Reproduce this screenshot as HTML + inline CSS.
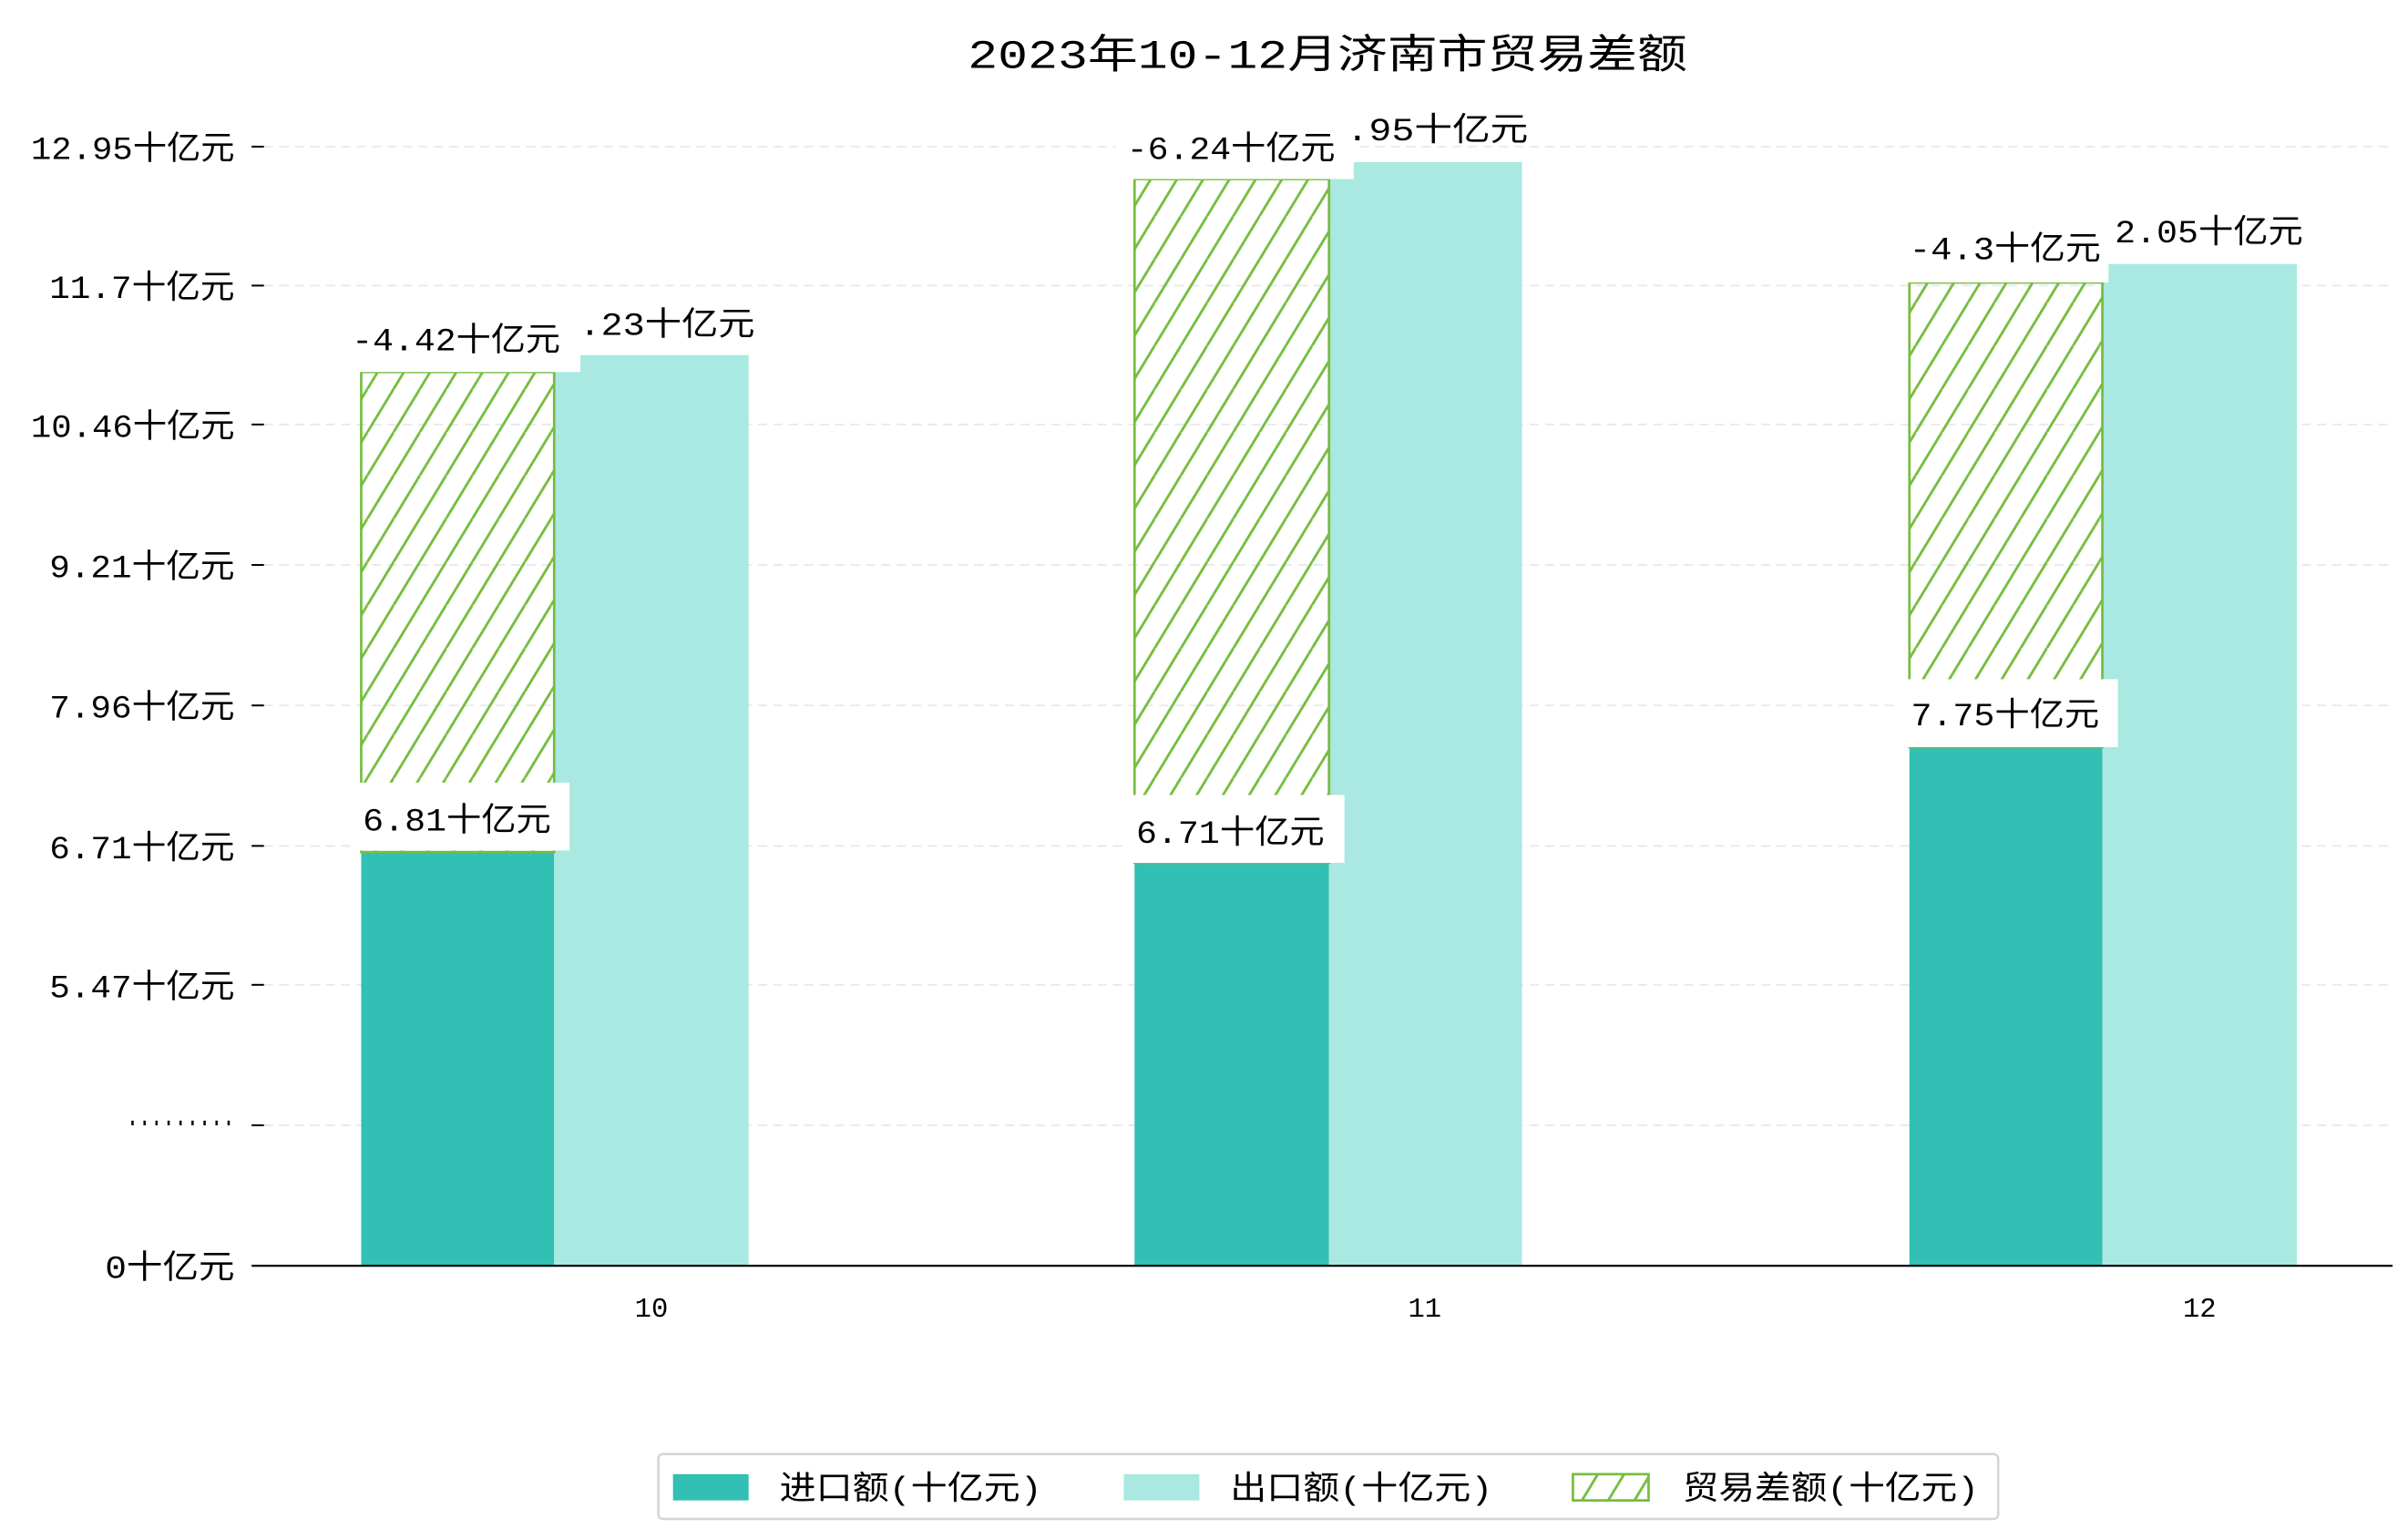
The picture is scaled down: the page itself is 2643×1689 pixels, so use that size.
<!DOCTYPE html>
<html><head><meta charset="utf-8"><style>
html,body{margin:0;padding:0;background:#fff;}
svg{display:block;}
text{font-family:"Liberation Mono","Noto Sans CJK SC",monospace;fill:#000;}
</style></head><body>
<svg width="2643" height="1689" viewBox="0 0 1560 997" preserveAspectRatio="none" xmlns="http://www.w3.org/2000/svg">
<defs>
<pattern id="h" patternUnits="userSpaceOnUse" width="17" height="28">
<line x1="-17" y1="56" x2="17" y2="0" stroke="#76bd3f" stroke-width="1.6"/>
<line x1="0" y1="56" x2="34" y2="0" stroke="#76bd3f" stroke-width="1.6"/>
<line x1="-17" y1="28" x2="0" y2="0" stroke="#76bd3f" stroke-width="1.6"/>
<line x1="0" y1="28" x2="17" y2="0" stroke="#76bd3f" stroke-width="1.6"/>
</pattern>
</defs>
<rect width="1560" height="997" fill="#fff"/>
<text x="627" y="44" font-size="26" textLength="466" lengthAdjust="spacingAndGlyphs">2023年10-12月济南市贸易差额</text>
<g stroke="#e8e8e8" stroke-dasharray="6,4" stroke-width="1">
<line x1="171" x2="1550" y1="95" y2="95"/><line x1="171" x2="1550" y1="185" y2="185"/>
<line x1="171" x2="1550" y1="275" y2="275"/><line x1="171" x2="1550" y1="366" y2="366"/>
<line x1="171" x2="1550" y1="457" y2="457"/><line x1="171" x2="1550" y1="548" y2="548"/>
<line x1="171" x2="1550" y1="638" y2="638"/><line x1="171" x2="1550" y1="729" y2="729"/>
</g>
<g stroke="#000" stroke-width="1.2">
<line x1="163" x2="171" y1="95" y2="95"/><line x1="163" x2="171" y1="185" y2="185"/>
<line x1="163" x2="171" y1="275" y2="275"/><line x1="163" x2="171" y1="366" y2="366"/>
<line x1="163" x2="171" y1="457" y2="457"/><line x1="163" x2="171" y1="548" y2="548"/>
<line x1="163" x2="171" y1="638" y2="638"/><line x1="163" x2="171" y1="729" y2="729"/>
</g>
<g font-size="21" lengthAdjust="spacingAndGlyphs">
<text x="20" y="103" textLength="132" lengthAdjust="spacingAndGlyphs">12.95十亿元</text>
<text x="32" y="193" textLength="120" lengthAdjust="spacingAndGlyphs">11.7十亿元</text>
<text x="20" y="283" textLength="132" lengthAdjust="spacingAndGlyphs">10.46十亿元</text>
<text x="32" y="374" textLength="120" lengthAdjust="spacingAndGlyphs">9.21十亿元</text>
<text x="32" y="465" textLength="120" lengthAdjust="spacingAndGlyphs">7.96十亿元</text>
<text x="32" y="556" textLength="120" lengthAdjust="spacingAndGlyphs">6.71十亿元</text>
<text x="32" y="646" textLength="120" lengthAdjust="spacingAndGlyphs">5.47十亿元</text>
<text x="82" y="733" textLength="70" lengthAdjust="spacingAndGlyphs">·········</text>
<text x="68" y="828" textLength="84" lengthAdjust="spacingAndGlyphs">0十亿元</text>
</g>
<g>
<rect x="234" y="552" width="125" height="268" fill="#31c0b3"/>
<rect x="359" y="230" width="126" height="590" fill="#aae8e2"/>
<rect x="234" y="241" width="125" height="311" fill="url(#h)" stroke="#76bd3f" stroke-width="1.6"/>
<rect x="735" y="559" width="126" height="261" fill="#31c0b3"/>
<rect x="861" y="105" width="125" height="715" fill="#aae8e2"/>
<rect x="735" y="116" width="126" height="443" fill="url(#h)" stroke="#76bd3f" stroke-width="1.6"/>
<rect x="1237" y="484" width="125" height="336" fill="#31c0b3"/>
<rect x="1362" y="171" width="126" height="649" fill="#aae8e2"/>
<rect x="1237" y="183" width="125" height="301" fill="url(#h)" stroke="#76bd3f" stroke-width="1.6"/>
</g>
<g font-size="21">
<rect x="228" y="507" width="141" height="44" fill="#fff"/><text x="235" y="538" textLength="122" lengthAdjust="spacingAndGlyphs">6.81十亿元</text>
<text x="375" y="217" textLength="114" lengthAdjust="spacingAndGlyphs">.23十亿元</text>
<rect x="222" y="197" width="154" height="44" fill="#fff"/><text x="228" y="227" textLength="135" lengthAdjust="spacingAndGlyphs">-4.42十亿元</text>
<rect x="729" y="515" width="142" height="44" fill="#fff"/><text x="736" y="546" textLength="122" lengthAdjust="spacingAndGlyphs">6.71十亿元</text>
<text x="872" y="91" textLength="118" lengthAdjust="spacingAndGlyphs">.95十亿元</text>
<rect x="723" y="72" width="154" height="44" fill="#fff"/><text x="730" y="103" textLength="135" lengthAdjust="spacingAndGlyphs">-6.24十亿元</text>
<rect x="1230" y="440" width="142" height="44" fill="#fff"/><text x="1238" y="470" textLength="122" lengthAdjust="spacingAndGlyphs">7.75十亿元</text>
<text x="1370" y="157" textLength="122" lengthAdjust="spacingAndGlyphs">2.05十亿元</text>
<rect x="1230" y="139" width="136" height="44" fill="#fff"/><text x="1237" y="168" textLength="124" lengthAdjust="spacingAndGlyphs">-4.3十亿元</text>
</g>
<line x1="163" x2="1550" y1="820" y2="820" stroke="#000" stroke-width="1.3"/>
<g font-size="18" text-anchor="middle"><text x="422" y="853">10</text><text x="923" y="853">11</text><text x="1425" y="853">12</text></g>
<rect x="426.5" y="942" width="868" height="42" rx="3" fill="#fff" stroke="#d5d5d5" stroke-width="1.5"/>
<rect x="436" y="955" width="49" height="17" fill="#31c0b3"/>
<text x="505" y="971" font-size="21" textLength="170" lengthAdjust="spacingAndGlyphs">进口额(十亿元)</text>
<rect x="728" y="955" width="49" height="17" fill="#aae8e2"/>
<text x="797" y="971" font-size="21" textLength="170" lengthAdjust="spacingAndGlyphs">出口额(十亿元)</text>
<rect x="1019" y="955" width="49" height="17" fill="url(#h)" stroke="#76bd3f" stroke-width="1.6"/>
<text x="1090" y="971" font-size="21" textLength="192" lengthAdjust="spacingAndGlyphs">贸易差额(十亿元)</text>
</svg>
</body></html>
